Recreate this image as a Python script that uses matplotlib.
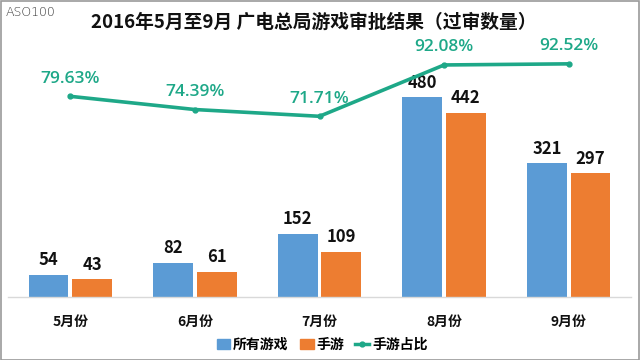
import matplotlib
matplotlib.use("Agg")
import matplotlib.pyplot as plt
from matplotlib.lines import Line2D
from matplotlib.patches import Patch, Rectangle
import numpy as np

plt.rcParams['font.family'] = ['Noto Sans CJK SC', 'DejaVu Sans']

categories = ["5月份", "6月份", "7月份", "8月份", "9月份"]
all_games = [54, 82, 152, 480, 321]
mobile_games = [43, 61, 109, 442, 297]
mobile_ratio = [0.7963, 0.7439, 0.7171, 0.9208, 0.9252]
ratio_labels = ["79.63%", "74.39%", "71.71%", "92.08%", "92.52%"]

title = "2016年5月至9月 广电总局游戏审批结果（过审数量）"
series_names = ["所有游戏", "手游", "手游占比"]

c_blue = "#5B9BD5"
c_orange = "#ED7D31"
c_teal = "#1EA888"

W, H = 640, 360
fig = plt.figure(figsize=(W / 100, H / 100), dpi=100)

left, right = 8 / W, 631 / W
bottom, top = 1 - 297 / H, 1 - 45 / H
ax = fig.add_axes([left, bottom, right - left, top - bottom])
x = np.arange(len(categories))
bw = 0.32
gap = 0.03
b1 = ax.bar(x - bw / 2 - gap / 2, all_games, bw, color=c_blue, zorder=2)
b2 = ax.bar(x + bw / 2 + gap / 2, mobile_games, bw, color=c_orange, zorder=2)
ax.set_xlim(-0.5, len(categories) - 0.5)
ax.set_ylim(0, 605)
for bars, vals in ((b1, all_games), (b2, mobile_games)):
    for r, v in zip(bars, vals):
        ax.annotate(str(v), (r.get_x() + r.get_width() / 2, v), xytext=(0, 4),
                    textcoords="offset points", ha="center", va="bottom",
                    fontsize=12, fontweight="bold", color="#111111")
for s in ["top", "right", "left"]:
    ax.spines[s].set_visible(False)
ax.spines["bottom"].set_color("#D9D9D9")
ax.spines["bottom"].set_linewidth(1)
ax.set_yticks([])
ax.set_xticks(x)
ax.set_xticklabels(categories, fontsize=10, fontweight="bold", color="#111111")
ax.tick_params(axis="x", length=0, pad=13)
ax.patch.set_alpha(0)

ax2 = ax.twinx()
ax2.set_ylim(0, 1.0)
ax2.plot(x, mobile_ratio, color=c_teal, lw=2.6, marker="o", ms=3.5, zorder=3)
for xi, v, lab in zip(x, mobile_ratio, ratio_labels):
    ax2.annotate(lab, (xi, v), xytext=(0, 7), textcoords="offset points",
                 ha="center", va="bottom", fontsize=12.5, color=c_teal,
                 family=["Open Sans", "DejaVu Sans"], fontweight="semibold")
ax2.set_yticks([])
for s in ax2.spines.values():
    s.set_visible(False)

fig.text(0.49, 1 - 22 / H, title, ha="center", va="center", fontsize=13.5,
         fontweight="bold", color="#111111")
fig.text(6 / W, 1 - 12 / H, "ASO100", ha="left", va="center", fontsize=9,
         color="#333333", family=["DejaVu Sans"], fontweight="light")

handles = [Patch(color=c_blue), Patch(color=c_orange),
           Line2D([0], [0], color=c_teal, lw=2.5, marker="o", ms=3.5)]
fig.legend(handles, series_names, loc="center", bbox_to_anchor=(322 / W, 1 - 345 / H),
           ncol=3, frameon=False, handlelength=1.0, handletextpad=0.2,
           columnspacing=0.8, prop={"weight": "bold", "size": 10})

fig.patches.append(Rectangle((0.5 / W, 0.5 / H), 1 - 1.5 / W, 1 - 1.5 / H,
                             transform=fig.transFigure, fill=False,
                             edgecolor="#9A9A9A", lw=1.2))

fig.savefig("out.png", dpi=100)
